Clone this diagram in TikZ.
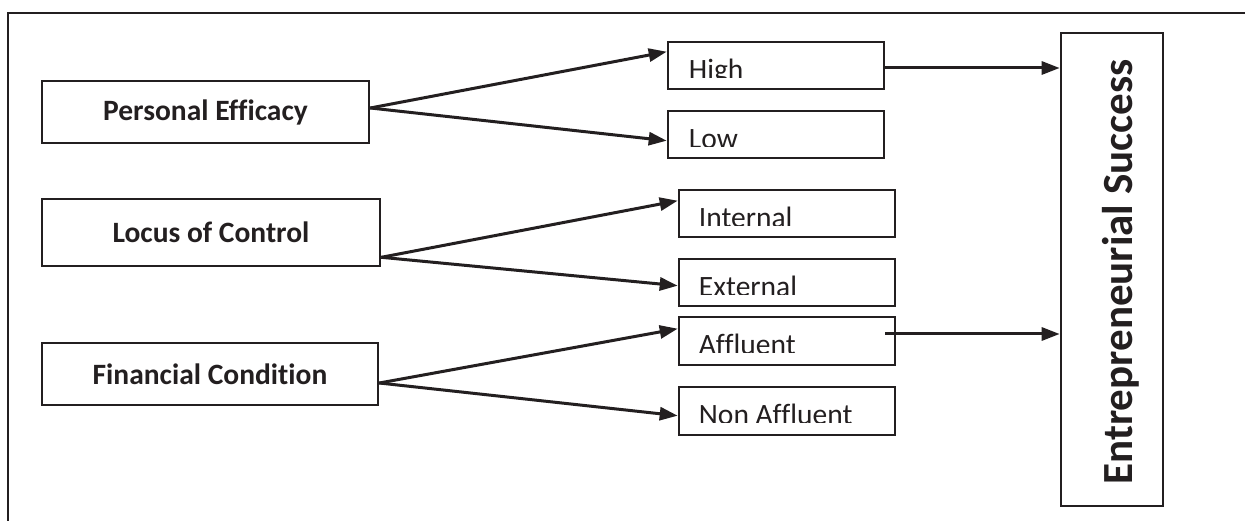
\documentclass[tikz,border=0pt]{standalone}
\usepackage{fontspec}
\setmainfont{Carlito}[Ligatures=NoCommon]
\usetikzlibrary{arrows.meta,calc}
\definecolor{ink}{HTML}{231F20}
\newcommand\optlabel[3]{%
  \begin{scope}
    \clip ($(#1.north west)+(2,2)$) rectangle ($(#1.north east)+(-2,37)$);
    \node[opttext] (#1t) at ($(#1.north west)+(#2,39)$) {#3};
  \end{scope}}
\begin{document}
\begin{tikzpicture}[x=1pt,y=-1pt,
  box/.style={draw=ink,line width=2.6pt,inner sep=0pt},
  lefttext/.style={font=\fontsize{29.5}{31}\selectfont\bfseries,text=ink},
  opttext/.style={font=\fontsize{29.5}{31}\selectfont,text=ink,anchor=base west,inner sep=0pt},
  link/.style={draw=ink,line width=3pt,-{Triangle[length=18pt,width=13pt]}}]
\useasboundingbox (0,0) rectangle (1245,521);
\draw[ink,line width=2.6pt] (8,521) -- (8,13) -- (1245,13);

% left boxes
\node[box,lefttext,minimum width=327pt,minimum height=62pt] (pe) at (205.5,112) {Personal Efficacy};
\node[box,lefttext,minimum width=338pt,minimum height=67pt] (loc) at (211,232.5) {Locus of Control};
\node[box,lefttext,minimum width=336pt,minimum height=62pt] (fin) at (210,374) {Financial Condition};

% option boxes
\node[box,minimum width=216pt,minimum height=47pt] (high) at (776,65.5) {};
\node[box,minimum width=216pt,minimum height=47pt] (low) at (776,134.5) {};
\node[box,minimum width=216pt,minimum height=47pt] (int) at (787,213.5) {};
\node[box,minimum width=216pt,minimum height=47pt] (ext) at (787,282.5) {};
\node[box,minimum width=216pt,minimum height=48pt] (aff) at (787,341) {};
\node[box,minimum width=216pt,minimum height=48pt] (non) at (787,411) {};
\optlabel{high}{22}{High}
\optlabel{low}{22}{Low}
\optlabel{int}{21}{Internal}
\optlabel{ext}{21}{External}
\optlabel{aff}{21}{Affluent}
\optlabel{non}{21}{Non Affluent}

% outcome box
\node[box,minimum width=102pt,minimum height=473pt] (es) at (1112,269.5) {};
\node[rotate=90,anchor=base,inner sep=0pt,text=ink,font=\fontsize{43}{45}\selectfont\bfseries] (est) at (1132,272) {Entrepreneurial Success};

% connectors
\draw[link] ($(pe.east)+(0,-4)$) -- ($(high.north west)+(0,11)$);
\draw[link] ($(pe.east)+(0,-4)$) -- ($(low.north west)+(0,31)$);
\draw[link] ($(loc.south east)+(0,-10)$) -- ($(int.north west)+(0,12)$);
\draw[link] ($(loc.south east)+(0,-10)$) -- ($(ext.north west)+(0,28)$);
\draw[link] ($(fin.east)+(0,9)$) -- ($(aff.north west)+(0,13)$);
\draw[link] ($(fin.east)+(0,9)$) -- ($(non.north west)+(0,30)$);
\coordinate (h1) at ($(high.east)+(0,2.5)$);
\draw[link] (h1) -- (h1 -| es.west);
\coordinate (a1) at ($(aff.east)+(-11,-7)$);
\draw[link] (a1) -- (a1 -| es.west);
\end{tikzpicture}
\end{document}
